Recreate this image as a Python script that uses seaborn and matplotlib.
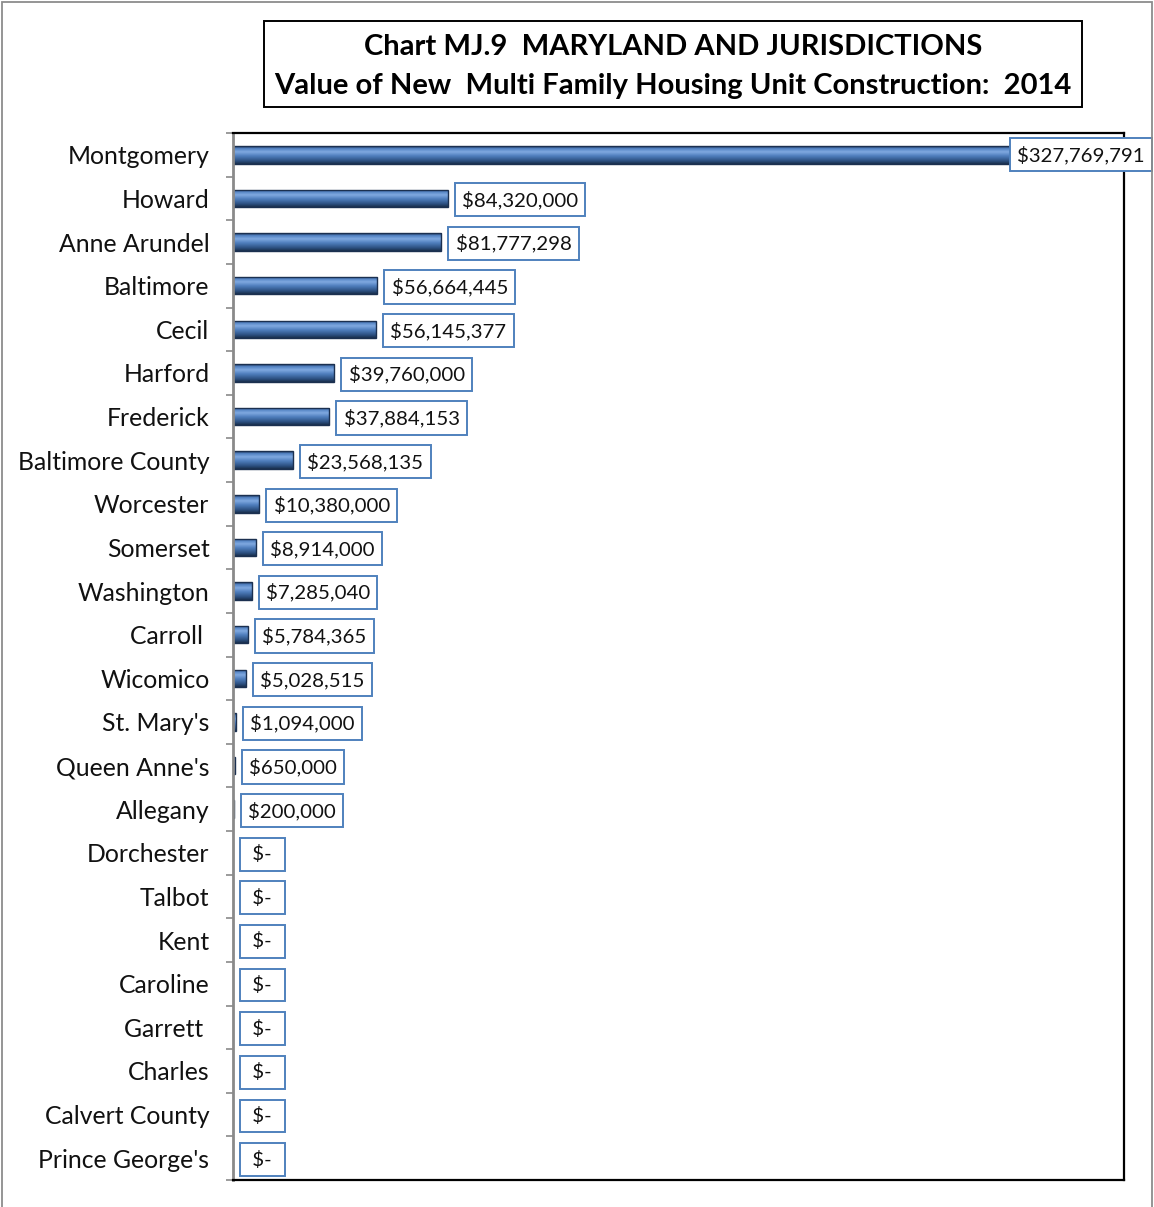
import numpy as np
import pandas as pd
import matplotlib
matplotlib.use("Agg")
import matplotlib.pyplot as plt
from matplotlib.colors import LinearSegmentedColormap
from matplotlib.patches import Rectangle
import seaborn as sns

counties = ["Montgomery", "Howard", "Anne Arundel", "Baltimore", "Cecil", "Harford",
            "Frederick", "Baltimore County", "Worcester", "Somerset", "Washington",
            "Carroll ", "Wicomico", "St. Mary's", "Queen Anne's", "Allegany",
            "Dorchester", "Talbot", "Kent", "Caroline", "Garrett ", "Charles",
            "Calvert County", "Prince George's"]
values = [327769791, 84320000, 81777298, 56664445, 56145377, 39760000,
          37884153, 23568135, 10380000, 8914000, 7285040,
          5784365, 5028515, 1094000, 650000, 200000,
          0, 0, 0, 0, 0, 0, 0, 0]

title_lines = ["Chart MJ.9  MARYLAND AND JURISDICTIONS",
               "Value of New  Multi Family Housing Unit Construction:  2014"]

df = pd.DataFrame({"county": counties, "value": values})

sns.set_theme(style="white")
FONT = ["Lato", "DejaVu Sans"]
plt.rcParams["font.family"] = FONT

W, H = 1154, 1207
fig = plt.figure(figsize=(W / 100, H / 100), dpi=100)
fig.patch.set_facecolor("white")

# plot area in pixel coordinates
L, T, R, B = 233, 133, 1124, 1180
ax = fig.add_axes([L / W, 1 - B / H, (R - L) / W, (B - T) / H])

sns.barplot(data=df, x="value", y="county", orient="h", color="#4F81BD",
            width=0.4, ax=ax, edgecolor="none", linewidth=0)
ax.set_xlim(0, 350e6)
ax.set_xlabel("")
ax.set_ylabel("")
ax.set_xticks([])

# bevelled look: vertical gradient clipped to each bar
bevel = LinearSegmentedColormap.from_list(
    "bevel", [(0.0, "#1E3658"), (0.12, "#4F7FC0"), (0.32, "#80A9E0"),
              (0.55, "#4F7EBD"), (0.82, "#2D5283"), (1.0, "#1A2F4D")])
grad = np.linspace(0, 1, 64).reshape(-1, 1)
for patch in list(ax.patches):
    x0, y0 = patch.get_x(), patch.get_y()
    w, h = patch.get_width(), patch.get_height()
    if w <= 0:
        continue
    im = ax.imshow(grad, cmap=bevel, aspect="auto", interpolation="bilinear",
                   extent=[x0, x0 + w, y0 + h, y0], zorder=patch.get_zorder() + 0.1)
    im.set_clip_path(patch)
    edge = Rectangle((x0, y0), w, h, fill=False, ec="#1B3050", lw=1.0,
                     zorder=patch.get_zorder() + 0.2)
    ax.add_patch(edge)
ax.set_xlim(0, 350e6)
ax.set_ylim(len(counties) - 0.5, -0.5)

# category ticks between bars
ax.set_yticks(np.arange(-0.5, len(counties), 1), minor=True)
ax.tick_params(axis="y", which="major", length=0, pad=17, labelsize=17.8,
               labelcolor="#111111")
ax.tick_params(axis="y", which="minor", left=True, length=5, width=1.2,
               color="#8A8A8A")
for lab in ax.get_yticklabels():
    lab.set_fontfamily(FONT)

for side in ["top", "right", "bottom"]:
    ax.spines[side].set_visible(True)
    ax.spines[side].set_color("black")
    ax.spines[side].set_linewidth(1.6)
ax.spines["left"].set_visible(True)
ax.spines["left"].set_color("#8A8A8A")
ax.spines["left"].set_linewidth(2.0)


def money(v):
    # accounting style: zero shown as a dash with padding
    return " $- " if v == 0 else "${:,.0f}".format(v)


label_fs = 14.7
pad = 0.36
box = dict(boxstyle="square,pad=%.2f" % pad, fc="white", ec="#4F81BD", lw=1.4)
pad_px = pad * label_fs * 100 / 72
xmax = ax.get_xlim()[1]
for i, v in enumerate(values):
    txt = money(v)
    if v > 0.85 * xmax:
        # label kept inside the chart area at the right edge
        ax.annotate(txt, xy=((1152 - pad_px) / W, i), xycoords=("figure fraction", "data"),
                    ha="right", va="center", fontsize=label_fs, color="#111111",
                    bbox=box, zorder=10, annotation_clip=False)
    else:
        ax.annotate(txt, xy=(v, i), xytext=((7 + pad_px) * 0.72, -1),
                    textcoords="offset points", ha="left", va="center",
                    fontsize=label_fs, color="#111111", bbox=box, zorder=10,
                    annotation_clip=False)

# title in a framed box
tx0, ty0, tx1, ty1 = 264, 21, 1082, 107
fig.add_artist(Rectangle((tx0 / W, 1 - ty1 / H), (tx1 - tx0) / W, (ty1 - ty0) / H,
                         transform=fig.transFigure, fill=False, ec="black", lw=1.4))
cx = (tx0 + tx1) / 2 / W
fig.text(cx, 1 - 47 / H, title_lines[0], ha="center", va="center",
         fontsize=21, fontweight="bold", color="black")
fig.text(cx, 1 - 86 / H, title_lines[1], ha="center", va="center",
         fontsize=21, fontweight="bold", color="black")

# outer chart frame
fig.add_artist(Rectangle((2 / W, -0.02), 1150 / W, 1.02 - 2 / H,
                         transform=fig.transFigure, fill=False, ec="#8C8C8C", lw=1.3))

fig.savefig("out.png", dpi=100, facecolor="white")
